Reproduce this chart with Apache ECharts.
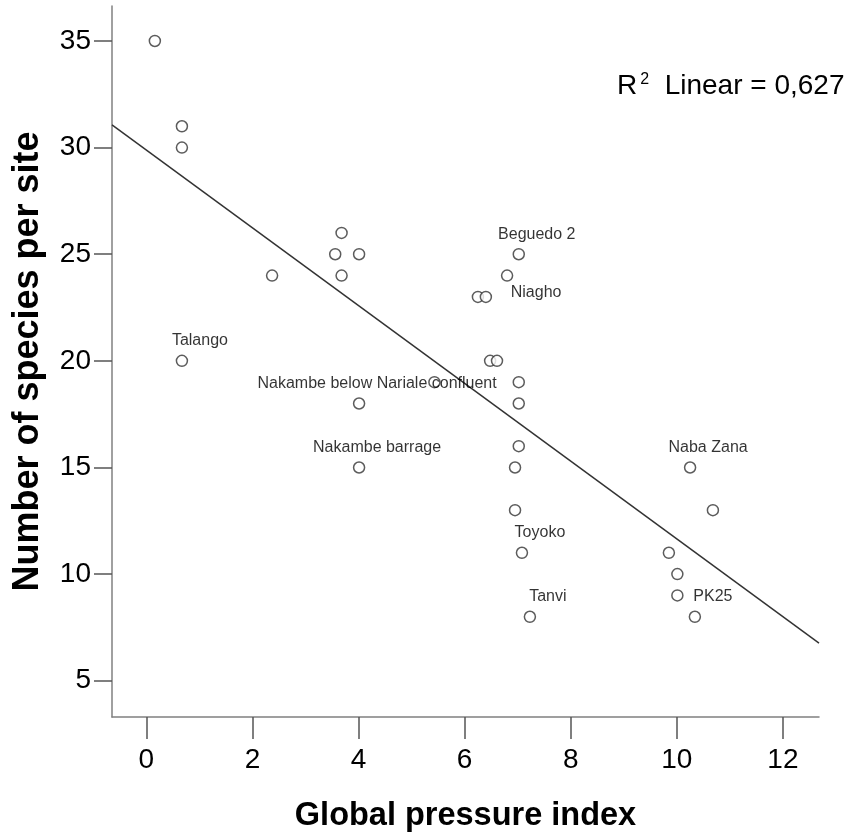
<!DOCTYPE html>
<html>
<head>
<meta charset="utf-8">
<script src="https://cdn.jsdelivr.net/npm/echarts@6/dist/echarts.min.js"></script>
<style>
html,body{margin:0;padding:0;background:#fff;}
#main{width:852px;height:839px;}
</style>
</head>
<body>
<div id="main"></div>
<script>
// data
var pressureIndex = [0.16, 0.67, 0.67, 0.67, 2.37, 3.68, 3.56, 4.01, 3.68, 7.02,
	6.80, 6.25, 6.40, 6.48, 6.61, 5.43, 7.02, 4.01, 7.02, 7.02,
	4.01, 6.95, 6.95, 7.08, 7.23, 10.25, 10.68, 9.85, 10.01, 10.01, 10.34]
var speciesCount = [35, 31, 30, 20, 24, 26, 25, 25, 24, 25,
	24, 23, 23, 20, 20, 19, 19, 18, 18, 16,
	15, 15, 13, 11, 8, 15, 13, 11, 10, 9, 8]
var siteNames = ['', '', '', 'Talango', '', '', '', '', '', 'Beguedo 2',
	'Niagho', '', '', '', '', '', '', 'Nakambe below Nariale confluent', '', '',
	'Nakambe barrage', '', '', 'Toyoko', 'Tanvi', 'Naba Zana', '', '', '', '', 'PK25']
var xTicks = [0, 2, 4, 6, 8, 10, 12]
var yTicks = [5, 10, 15, 20, 25, 30, 35]
// fit line (R2 linear = 0,627)
var fitIntercept = 29.88
var fitSlope = -1.823
var xMin = -0.648, xMax = 12.68
var yMin = 3.30, yMax = 36.64

var chart = echarts.init(document.getElementById('main'))

var points = pressureIndex.map(function(x, i){
	var name = siteNames[i]
	var off = [18, -20]
	if(name == 'Niagho') off = [29, 17]
	return {
		value: [x, speciesCount[i]],
		name: name,
		label: { show: name != '', offset: off }
	}
})

var fitLine = [
	[xMin, fitIntercept + fitSlope * xMin],
	[xMax, fitIntercept + fitSlope * xMax]
]

var font = 'Liberation Sans, Arial, sans-serif'

chart.setOption({
	animation: false,
	title: {
		text: '{r|R}{s|2}{r|  Linear = 0,627}',
		left: 612,
		top: 67,
		textStyle: {
			fontWeight: 'normal',
			rich: {
				r: { fontSize: 28, fontWeight: 'normal', fontFamily: font, color: '#000' },
				s: { fontSize: 16, fontWeight: 'normal', fontFamily: font, color: '#000', verticalAlign: 'top', padding: [0, 0, 0, 3] }
			}
		}
	},
	grid: { left: 112, right: 33, top: 6, bottom: 122, outerBoundsMode: 'none', containLabel: false },
	xAxis: {
		type: 'value',
		min: xMin,
		max: xMax,
		name: 'Global pressure index',
		nameLocation: 'middle',
		nameGap: 83,
		nameTextStyle: { fontSize: 32.5, fontWeight: 'bold', fontFamily: font, color: '#000' },
		axisLine: { show: true, onZero: false, lineStyle: { color: '#808080', width: 1.5 } },
		axisTick: { show: true, length: 22, customValues: xTicks, lineStyle: { color: '#555', width: 1.5 } },
		axisLabel: { customValues: xTicks, margin: 29, fontSize: 28, fontFamily: font, color: '#000' },
		splitLine: { show: false }
	},
	yAxis: {
		type: 'value',
		min: yMin,
		max: yMax,
		name: 'Number of species per site',
		nameLocation: 'middle',
		nameGap: 66,
		nameTextStyle: { fontSize: 36, fontWeight: 'bold', fontFamily: font, color: '#000' },
		axisLine: { show: true, onZero: false, lineStyle: { color: '#808080', width: 1.5 } },
		axisTick: { show: true, length: 18, customValues: yTicks, lineStyle: { color: '#555', width: 1.5 } },
		axisLabel: { customValues: yTicks, margin: 21, fontSize: 28, fontFamily: font, color: '#000' },
		splitLine: { show: false }
	},
	series: [
		{
			type: 'line',
			data: fitLine,
			symbol: 'none',
			lineStyle: { color: '#333', width: 1.5 },
			z: 2
		},
		{
			type: 'scatter',
			data: points,
			symbol: 'circle',
			symbolSize: 11,
			itemStyle: { color: '#fff', borderColor: '#333', borderWidth: 1.5 },
			label: {
				position: 'inside',
				formatter: '{b}',
				fontSize: 16,
				fontFamily: font,
				color: '#000'
			},
			z: 3
		}
	]
})
</script>
</body>
</html>
